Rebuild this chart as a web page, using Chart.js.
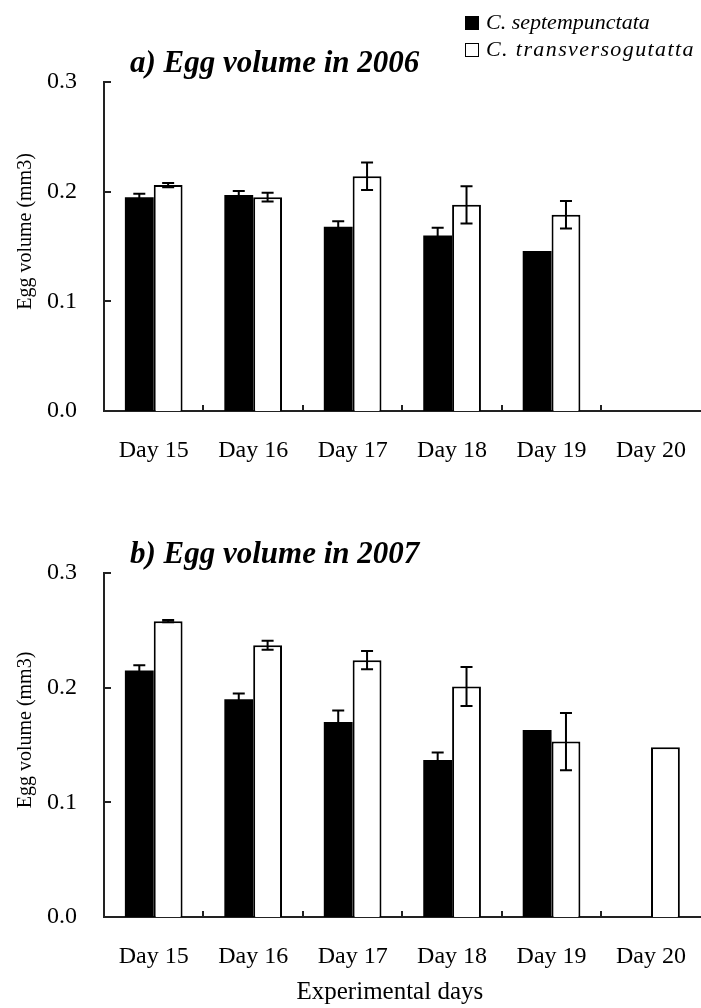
<!DOCTYPE html>
<html>
<head>
<meta charset="utf-8">
<script src="https://cdn.jsdelivr.net/npm/chart.js@4.4.0/dist/chart.umd.min.js"></script>
<style>
  body { margin: 0; background: #fff; width: 701px; height: 1008px; overflow: hidden; position: relative; }
  canvas { position: absolute; left: 0; }
  #c1 { top: 0; }
  #c2 { top: 490px; }
  .leg { position: absolute; left: 465px; font: italic 22px "Liberation Serif", serif; color: #000; white-space: nowrap; }
  .leg span { display: inline-block; width: 12px; height: 12px; border: 1.5px solid #000; margin-right: 7px; vertical-align: -1px; }
</style>
</head>
<body>
<canvas id="c1" width="711" height="480"></canvas>
<canvas id="c2" width="711" height="518"></canvas>
<div class="leg" style="top:9px"><span style="background:#000"></span>C. septempunctata</div>
<div class="leg" style="top:36px"><span style="background:#fff"></span><i style="letter-spacing:1.4px">C. transversogutatta</i></div>
<script>
const days = ['Day 15', 'Day 16', 'Day 17', 'Day 18', 'Day 19', 'Day 20'];
const yTicks = [0, 0.1, 0.2, 0.3];

// 2006
const sept2006 = [0.195, 0.197, 0.168, 0.160, 0.146, null];
const sept2006Err = [0.003, 0.0035, 0.005, 0.007, 0, null];
const trans2006 = [0.206, 0.195, 0.214, 0.188, 0.179, null];
const trans2006Err = [0.002, 0.004, 0.0125, 0.017, 0.0125, null];

// 2007
const sept2007 = [0.215, 0.190, 0.170, 0.137, 0.163, null];
const sept2007Err = [0.0045, 0.005, 0.010, 0.0065, 0, null];
const trans2007 = [0.258, 0.237, 0.224, 0.201, 0.153, 0.148];
const trans2007Err = [0.001, 0.004, 0.008, 0.017, 0.025, 0];

const serif = '"Liberation Serif", "Times New Roman", serif';

// error bars, inward tick marks and the panel heading
const extras = {
  id: 'extras',
  afterDatasetsDraw(chart, args, opts) {
    const ctx = chart.ctx;
    const y = chart.scales.y;
    ctx.save();
    ctx.strokeStyle = '#000';
    ctx.lineWidth = 2;
    chart.data.datasets.forEach((ds, i) => {
      const meta = chart.getDatasetMeta(i);
      meta.data.forEach((bar, j) => {
        const v = ds.data[j], e = opts.errs[i][j];
        if (v == null || !e) return;
        const x = bar.x;
        const top = y.getPixelForValue(v + e), bot = y.getPixelForValue(v - e);
        ctx.beginPath();
        ctx.moveTo(x, top); ctx.lineTo(x, bot);
        ctx.moveTo(x - 6, top); ctx.lineTo(x + 6, top);
        ctx.moveTo(x - 6, bot); ctx.lineTo(x + 6, bot);
        ctx.stroke();
      });
    });
    ctx.restore();
  },
  afterDraw(chart, args, opts) {
    const ctx = chart.ctx;
    const {left, bottom, top} = chart.chartArea;
    const x = chart.scales.x, y = chart.scales.y;
    ctx.save();
    ctx.strokeStyle = '#222';
    ctx.lineWidth = 2;
    ctx.beginPath();
    y.ticks.forEach(t => {
      const py = Math.round(y.getPixelForValue(t.value));
      if (py >= bottom - 1) return;
      ctx.moveTo(left, py); ctx.lineTo(left + 7, py);
    });
    for (let i = 1; i < days.length; i++) {
      const px = Math.round((x.getPixelForValue(i - 1) + x.getPixelForValue(i)) / 2);
      ctx.moveTo(px, bottom); ctx.lineTo(px, bottom - 6);
    }
    ctx.stroke();
    ctx.fillStyle = '#000';
    ctx.font = 'italic bold 31px ' + serif;
    ctx.textBaseline = 'alphabetic';
    ctx.fillText(opts.title, 130, top - 10);
    ctx.restore();
  }
};

function makeChart(id, title, sept, septErr, trans, transErr, axisHeight, xTitle) {
  return new Chart(document.getElementById(id), {
    type: 'bar',
    data: {
      labels: days,
      datasets: [
        { label: 'C. septempunctata', data: sept, backgroundColor: '#000', borderWidth: 0 },
        { label: 'C. transversogutatta', data: trans, backgroundColor: '#fff', borderColor: '#000', borderWidth: 2 }
      ]
    },
    options: {
      responsive: false,
      animation: false,
      devicePixelRatio: 1,
      layout: { padding: { top: id === 'c1' ? 82 : 83, left: 0, right: 0, bottom: 0 } },
      datasets: { bar: { categoryPercentage: 0.58, barPercentage: 1.0 } },
      plugins: {
        legend: { display: false },
        tooltip: { enabled: false },
        extras: { title: title, errs: [septErr, transErr] }
      },
      scales: {
        x: {
          grid: { display: false, drawTicks: false },
          border: { display: true, color: '#222', width: 2 },
          ticks: { color: '#000', font: { family: serif, size: 24 }, padding: 25, maxRotation: 0 },
          // trailing spaces nudge the centred title a little to the left, as in the original
          title: { display: !!xTitle, text: (xTitle || '') + '    ', color: '#000', font: { family: serif, size: 25 }, padding: { top: 0, bottom: 1 } },
          afterFit: s => { s.height = axisHeight; }
        },
        y: {
          min: 0, max: 0.3,
          grid: { display: false, drawTicks: false },
          border: { display: true, color: '#222', width: 2 },
          ticks: { color: '#000', font: { family: serif, size: 24 }, padding: 27, callback: v => v.toFixed(1) },
          afterBuildTicks: s => { s.ticks = yTicks.map(v => ({ value: v })); },
          title: { display: true, text: '      Egg volume (mm3)', color: '#000', font: { family: serif, size: 20 }, padding: { top: 14, bottom: 0 } },
          afterFit: s => { s.width = 104; }
        }
      }
    },
    plugins: [extras]
  });
}

makeChart('c1', 'a) Egg volume in 2006', sept2006, sept2006Err, trans2006, trans2006Err, 69, null);
makeChart('c2', 'b) Egg volume in 2007', sept2007, sept2007Err, trans2007, trans2007Err, 91, 'Experimental days');
</script>
</body>
</html>
